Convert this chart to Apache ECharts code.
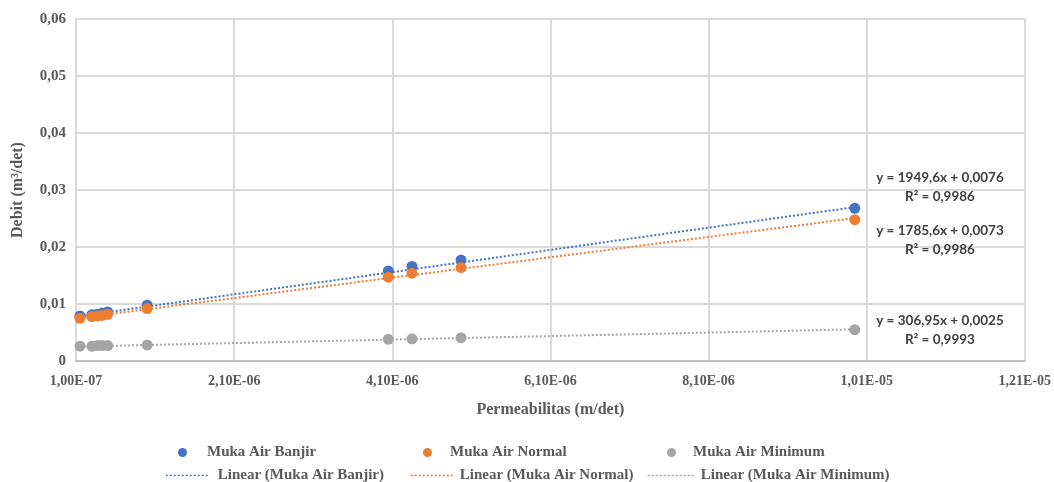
<!DOCTYPE html>
<html>
<head>
<meta charset="utf-8">
<script src="https://cdn.jsdelivr.net/npm/echarts@6/dist/echarts.min.js"></script>
<style>
  html, body { margin: 0; padding: 0; background: #ffffff; }
  #chart { width: 1054px; height: 482px; }
</style>
</head>
<body>
<div id="chart"></div>
<script>
// ---- data ----
const permeabilitas = [1.5e-7, 3.0e-7, 3.7e-7, 4.3e-7, 5.0e-7, 1.0e-6, 4.05e-6, 4.35e-6, 4.97e-6, 9.95e-6];
const mukaAirBanjir = [0.0079, 0.0081, 0.0082, 0.0084, 0.0086, 0.0098, 0.0158, 0.0166, 0.0177, 0.0268];
const mukaAirNormal = [0.0075, 0.0078, 0.0079, 0.0080, 0.0082, 0.0092, 0.0147, 0.0154, 0.0164, 0.0248];
const mukaAirMinimum = [0.0026, 0.0026, 0.0027, 0.0027, 0.0027, 0.0028, 0.0038, 0.0039, 0.0041, 0.0055];

// trendline equations printed on the chart
const trendSlope = [1949.6, 1785.6, 306.95];
const trendIntercept = [0.0076, 0.0073, 0.0025];
const trendLabels = [
  ['y = 1949,6x + 0,0076', 'R² = 0,9986'],
  ['y = 1785,6x + 0,0073', 'R² = 0,9986'],
  ['y = 306,95x + 0,0025', 'R² = 0,9993']
];

const seriesNames = ['Muka Air Banjir', 'Muka Air Normal', 'Muka Air Minimum'];
const trendNames = ['Linear (Muka Air Banjir)', 'Linear (Muka Air Normal)', 'Linear (Muka Air Minimum)'];
const colors = ['#4472C4', '#ED7D31', '#A5A5A5'];

// ---- helpers ----
function pairs(xs, ys) { return xs.map((x, i) => [x, ys[i]]); }
function trend(i) {
  const x0 = Math.min(...permeabilitas), x1 = Math.max(...permeabilitas);
  return [[x0, trendSlope[i] * x0 + trendIntercept[i]], [x1, trendSlope[i] * x1 + trendIntercept[i]]];
}
function fmtX(v) {
  const s = v.toExponential(2);
  const [m, e] = s.split('e');
  const sign = e[0] === '-' ? '-' : '+';
  const d = e.replace(/^[-+]/, '');
  return m.replace('.', ',') + 'E' + sign + (d.length < 2 ? '0' + d : d);
}
function fmtY(v) { return v === 0 ? '0' : v.toFixed(2).replace('.', ','); }

const serif = '"Liberation Serif", "Times New Roman", serif';
const axisTextColor = '#595959';
const valueSeries = [mukaAirBanjir, mukaAirNormal, mukaAirMinimum];

const series = [];
for (let i = 0; i < 3; i++) {
  series.push({
    name: trendNames[i],
    type: 'line',
    data: trend(i),
    symbol: 'none',
    z: 2,
    silent: true,
    color: colors[i],
    lineStyle: { color: colors[i], width: 2, type: [2, 2] }
  });
}
for (let i = 0; i < 3; i++) {
  series.push({
    name: seriesNames[i],
    type: 'scatter',
    data: pairs(permeabilitas, valueSeries[i]),
    symbol: 'circle',
    symbolSize: 11,
    z: 3,
    itemStyle: { color: colors[i], opacity: 1 }
  });
}

const legendText = { fontFamily: serif, fontWeight: 'bold', fontSize: 15, color: axisTextColor };
const lineLegendBase = { itemHeight: 10, itemStyle: { opacity: 0 }, lineStyle: { width: 1.5 } };
const legends = [
  { data: [seriesNames[0]], left: 178, top: 445, icon: 'circle', itemWidth: 9, itemHeight: 9, textStyle: Object.assign({ padding: [0, 0, 0, 15] }, legendText) },
  { data: [seriesNames[1]], left: 423, top: 445, icon: 'circle', itemWidth: 9, itemHeight: 9, textStyle: Object.assign({ padding: [0, 0, 0, 13] }, legendText) },
  { data: [seriesNames[2]], left: 667, top: 445, icon: 'circle', itemWidth: 9, itemHeight: 9, textStyle: Object.assign({ padding: [0, 0, 0, 12] }, legendText) },
  Object.assign({ data: [trendNames[0]], left: 165, top: 468, itemWidth: 43, textStyle: Object.assign({ padding: [0, 0, 0, 4] }, legendText) }, lineLegendBase),
  Object.assign({ data: [trendNames[1]], left: 410, top: 468, itemWidth: 42, textStyle: Object.assign({ padding: [0, 0, 0, 2] }, legendText) }, lineLegendBase),
  Object.assign({ data: [trendNames[2]], left: 647, top: 468, itemWidth: 46, textStyle: Object.assign({ padding: [0, 0, 0, 2] }, legendText) }, lineLegendBase)
].map(l => Object.assign({ orient: 'horizontal', padding: 0, selectedMode: false }, l));

const labelCenterX = 940;
const labelTops = [168, 221, 311];
const graphics = trendLabels.map((lines, i) => ({
  type: 'text', x: labelCenterX, y: labelTops[i], silent: true, z: 100,
  style: {
    text: lines[0] + '\n' + lines[1],
    align: 'center', verticalAlign: 'top',
    font: 'bold 13.5px Lato, "Open Sans", sans-serif',
    fill: '#404040', lineHeight: 19
  }
}));

const chart = echarts.init(document.getElementById('chart'), null, { renderer: 'canvas' });
chart.setOption({
  animation: false,
  backgroundColor: '#ffffff',
  grid: { left: 76, right: 28, top: 19, bottom: 121, containLabel: false },
  xAxis: {
    type: 'value',
    min: 1e-7, max: 1.21e-5, interval: 2e-6,
    name: 'Permeabilitas (m/det)',
    nameLocation: 'middle',
    nameGap: 41,
    nameTextStyle: { fontFamily: serif, fontWeight: 'bold', fontSize: 16, color: axisTextColor },
    axisLine: { show: true, lineStyle: { color: '#bfbfbf', width: 2 } },
    axisTick: { show: false },
    axisLabel: { formatter: fmtX, fontFamily: serif, fontWeight: 'bold', fontSize: 14, color: axisTextColor, margin: 13 },
    splitLine: { show: true, lineStyle: { color: '#d9d9d9', width: 2 } }
  },
  yAxis: {
    type: 'value',
    min: 0, max: 0.06, interval: 0.01,
    name: 'Debit (m³/det)',
    nameLocation: 'middle',
    nameGap: 50,
    nameRotate: 90,
    nameTextStyle: { fontFamily: serif, fontWeight: 'bold', fontSize: 16, color: axisTextColor },
    axisLine: { show: true, lineStyle: { color: '#d9d9d9', width: 2 } },
    axisTick: { show: false },
    axisLabel: { formatter: fmtY, fontFamily: serif, fontWeight: 'bold', fontSize: 15, color: axisTextColor, margin: 10 },
    splitLine: { show: true, lineStyle: { color: '#d9d9d9', width: 2 } }
  },
  legend: legends,
  graphic: graphics,
  series: series
});
</script>
</body>
</html>
